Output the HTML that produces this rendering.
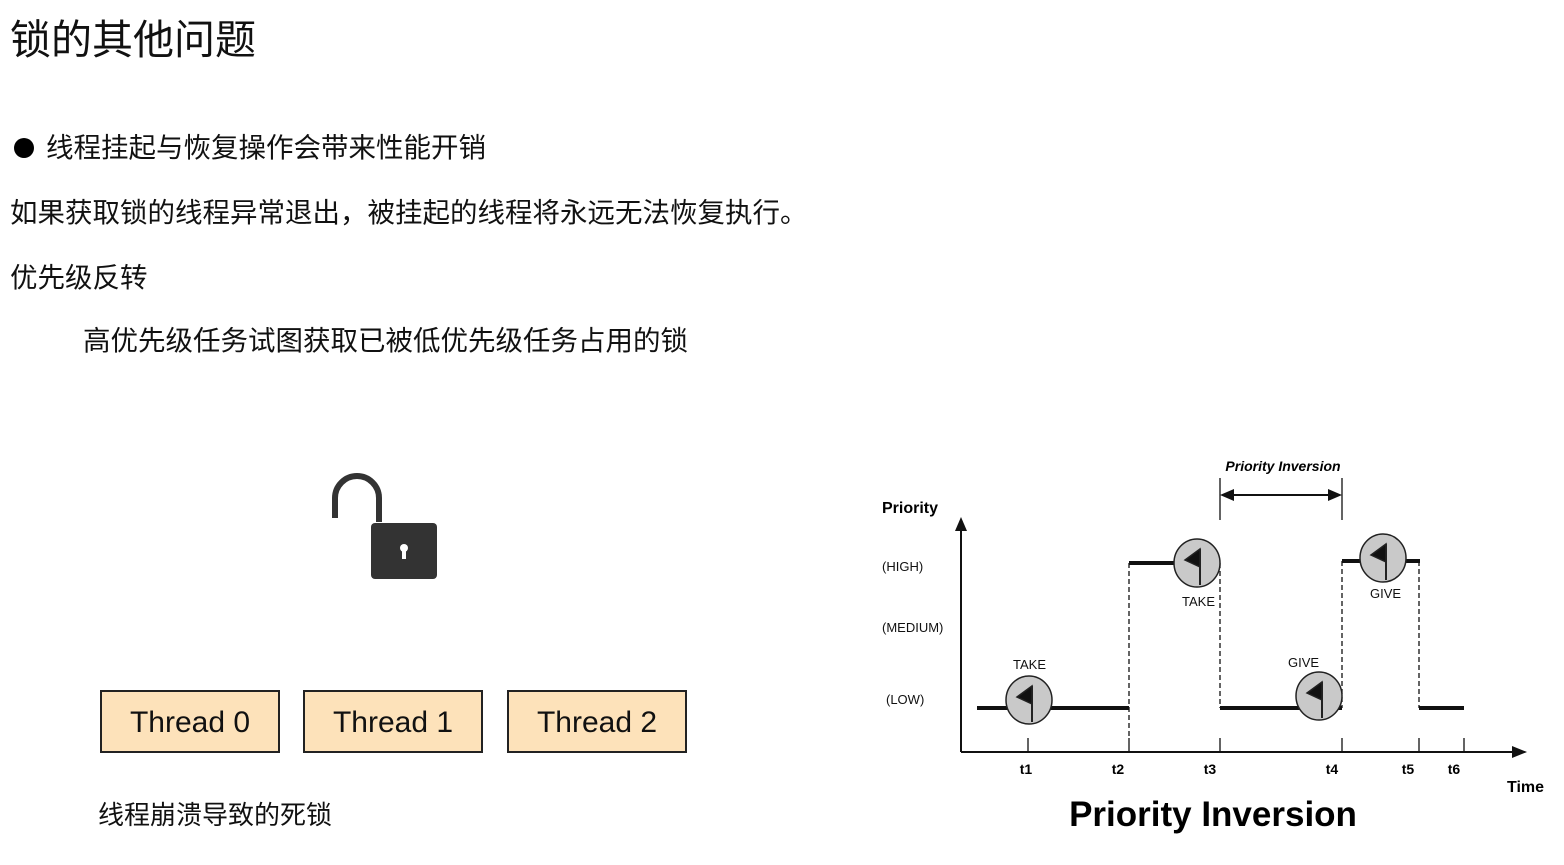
<!DOCTYPE html>
<html><head><meta charset="utf-8"><style>
body{margin:0;width:1564px;height:865px;background:#fff;overflow:hidden;position:relative;font-family:"Liberation Sans","Noto Sans CJK SC",sans-serif;color:#111}
.t{position:absolute;white-space:nowrap;line-height:1}
.box{position:absolute;top:690px;width:176px;height:59px;border:2px solid #222;background:#fde2ba;font-size:30px;text-align:center;line-height:61px;font-family:"Liberation Sans",sans-serif}
</style></head><body>
<div class="t" style="left:10px;top:20px;font-size:41px">锁的其他问题</div>
<div style="position:absolute;left:14px;top:138px;width:20px;height:20px;border-radius:50%;background:#000"></div>
<div class="t" style="left:46px;top:134px;font-size:27.5px">线程挂起与恢复操作会带来性能开销</div>
<div class="t" style="left:10px;top:199px;font-size:27.5px">如果获取锁的线程异常退出，被挂起的线程将永远无法恢复执行。</div>
<div class="t" style="left:10px;top:264px;font-size:27.5px">优先级反转</div>
<div class="t" style="left:83px;top:327px;font-size:27.5px">高优先级任务试图获取已被低优先级任务占用的锁</div>
<div class="t" style="left:98px;top:802px;font-size:26px">线程崩溃导致的死锁</div>
<div class="box" style="left:100px">Thread 0</div>
<div class="box" style="left:303px">Thread 1</div>
<div class="box" style="left:507px">Thread 2</div>
<svg width="1564" height="865" style="position:absolute;left:0;top:0" font-family="Liberation Sans, sans-serif">
<path d="M335 518 V498 A22 22 0 0 1 379 498 V522" fill="none" stroke="#333" stroke-width="6"/>
<rect x="371" y="523" width="66" height="56" rx="4" fill="#333"/>
<circle cx="404" cy="548" r="4" fill="#fff"/><rect x="402" y="548" width="4" height="11" fill="#fff"/>
<g stroke="#111" fill="none">
<line x1="961" y1="528" x2="961" y2="752" stroke-width="2"/>
<line x1="961" y1="752" x2="1515" y2="752" stroke-width="2"/>
<g stroke-width="4"><line x1="977" y1="708" x2="1129" y2="708"/><line x1="1129" y1="563" x2="1220" y2="563"/><line x1="1220" y1="708" x2="1342" y2="708"/><line x1="1342" y1="561" x2="1420" y2="561"/><line x1="1419" y1="708" x2="1464" y2="708"/></g>
<g stroke-dasharray="5,3" stroke-width="1.3"><line x1="1129" y1="563" x2="1129" y2="738"/><line x1="1220" y1="563" x2="1220" y2="708"/><line x1="1342" y1="561" x2="1342" y2="708"/><line x1="1419" y1="561" x2="1419" y2="708"/></g>
<g stroke-width="1.3"><line x1="1028" y1="738" x2="1028" y2="752"/><line x1="1129" y1="738" x2="1129" y2="752"/><line x1="1220" y1="738" x2="1220" y2="752"/><line x1="1342" y1="738" x2="1342" y2="752"/><line x1="1419" y1="738" x2="1419" y2="752"/><line x1="1464" y1="738" x2="1464" y2="752"/>
<line x1="1220" y1="478" x2="1220" y2="520"/><line x1="1342" y1="478" x2="1342" y2="520"/><line x1="1230" y1="495" x2="1332" y2="495" stroke-width="2"/></g>
</g>
<polygon points="961,517 955,531 967,531" fill="#111"/>
<polygon points="1527,752 1512,746 1512,758" fill="#111"/>
<polygon points="1220,495 1234,489 1234,501" fill="#111"/>
<polygon points="1342,495 1328,489 1328,501" fill="#111"/>
<g stroke="#222" stroke-width="1.5">
<g transform="translate(1029,700)"><ellipse rx="23" ry="24" fill="#c9c9c9"/><line x1="3" y1="-14" x2="3" y2="22" stroke-width="2"/><polygon points="3,-14 3,4 -12,-3" fill="#111"/></g>
<g transform="translate(1197,563)"><ellipse rx="23" ry="24" fill="#c9c9c9"/><line x1="3" y1="-14" x2="3" y2="22" stroke-width="2"/><polygon points="3,-14 3,4 -12,-3" fill="#111"/></g>
<g transform="translate(1319,696)"><ellipse rx="23" ry="24" fill="#c9c9c9"/><line x1="3" y1="-14" x2="3" y2="22" stroke-width="2"/><polygon points="3,-14 3,4 -12,-3" fill="#111"/></g>
<g transform="translate(1383,558)"><ellipse rx="23" ry="24" fill="#c9c9c9"/><line x1="3" y1="-14" x2="3" y2="22" stroke-width="2"/><polygon points="3,-14 3,4 -12,-3" fill="#111"/></g>
</g>
<g font-size="13" fill="#111">
<text x="882" y="571">(HIGH)</text><text x="882" y="632">(MEDIUM)</text><text x="886" y="704">(LOW)</text>
<text x="1013" y="669">TAKE</text><text x="1182" y="606">TAKE</text><text x="1288" y="667">GIVE</text><text x="1370" y="598">GIVE</text>
</g>
<text x="882" y="513" font-size="16" font-weight="bold">Priority</text>
<g font-size="14" font-weight="bold" text-anchor="middle"><text x="1026" y="774">t1</text><text x="1118" y="774">t2</text><text x="1210" y="774">t3</text><text x="1332" y="774">t4</text><text x="1408" y="774">t5</text><text x="1454" y="774">t6</text></g>
<text x="1507" y="792" font-size="16" font-weight="bold">Time</text>
<text x="1283" y="471" font-size="14" font-weight="bold" font-style="italic" text-anchor="middle">Priority Inversion</text>
<text x="1213" y="826" font-size="35" font-weight="bold" text-anchor="middle">Priority Inversion</text>
</svg>
</body></html>
